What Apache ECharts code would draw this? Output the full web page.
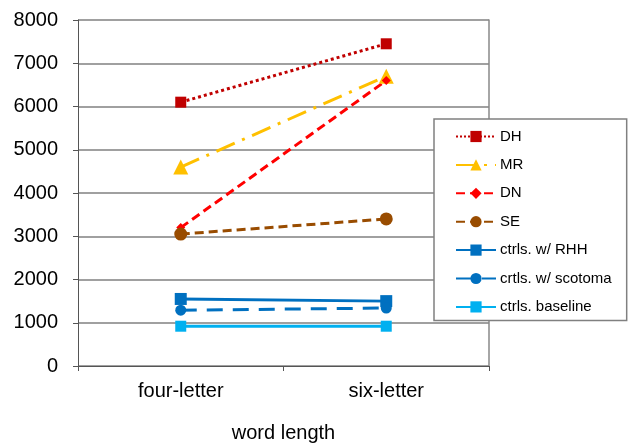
<!DOCTYPE html>
<html>
<head>
<meta charset="utf-8">
<script src="https://cdn.jsdelivr.net/npm/echarts@6/dist/echarts.min.js"></script>
<style>
html,body{margin:0;padding:0;background:#fff;}
#chart{width:633px;height:448px;}
</style>
</head>
<body>
<div id="chart"></div>
<script>
const categories = ['four-letter', 'six-letter'];
const seriesNames = ['DH', 'MR', 'DN', 'SE', 'ctrls. w/ RHH', 'crtls. w/ scotoma', 'ctrls. baseline'];
const dhValues = [6100, 7450];
const mrValues = [4600, 6700];
const dnValues = [3200, 6600];
const seValues = [3050, 3400];
const rhhValues = [1550, 1500];
const scotomaValues = [1290, 1340];
const baselineValues = [920, 920];
const yTicks = {min: 0, max: 8000, interval: 1000};
const xTitle = 'word length';

const FONT = 'Liberation Sans, Arial, sans-serif';

function mk(name, data, color, type, symbol, size) {
  return {
    name: name, type: 'line', data: data,
    symbol: symbol, symbolSize: size,
    itemStyle: {color: color},
    lineStyle: {color: color, width: 3, type: type},
    emphasis: {disabled: true},
    animation: false
  };
}

const chart = echarts.init(document.getElementById('chart'), null, {renderer: 'canvas'});
chart.setOption({
  animation: false,
  backgroundColor: '#ffffff',
  grid: {left: 78, right: 144, top: 20, bottom: 79},
  xAxis: {
    type: 'category', data: categories, boundaryGap: true,
    name: xTitle, nameLocation: 'middle', nameGap: 57,
    nameTextStyle: {fontFamily: FONT, fontSize: 20, color: '#000'},
    axisLine: {lineStyle: {color: '#555555', width: 1}},
    axisTick: {show: true, length: 5, lineStyle: {color: '#555555'}},
    axisLabel: {fontFamily: FONT, fontSize: 20, color: '#000', margin: 15},
    splitLine: {show: false}
  },
  yAxis: [{
    type: 'value', min: yTicks.min, max: yTicks.max, interval: yTicks.interval,
    axisLine: {show: true, lineStyle: {color: '#555555', width: 1}},
    axisTick: {show: true, length: 5, lineStyle: {color: '#555555'}},
    axisLabel: {fontFamily: FONT, fontSize: 20, color: '#000', margin: 20, formatter: function (v) { return String(v); }},
    splitLine: {show: true, lineStyle: {color: '#808080', width: 1.5}}
  }, {
    type: 'value', position: 'right', min: yTicks.min, max: yTicks.max, interval: yTicks.interval,
    axisLine: {show: true, lineStyle: {color: '#888888', width: 1.5}},
    axisTick: {show: false}, axisLabel: {show: false}, splitLine: {show: false}
  }],
  legend: {
    orient: 'vertical', left: 434, top: 119,
    padding: [10, 15, 6, 21],
    backgroundColor: '#ffffff', borderColor: '#808080', borderWidth: 1.5,
    itemWidth: 40, itemHeight: 14, itemGap: 13.4,
    textStyle: {fontFamily: FONT, fontSize: 15, color: '#000', padding: [0, 0, 0, -1]},
    data: seriesNames
  },
  series: [
    mk(seriesNames[0], dhValues, '#C00000', 'dotted', 'rect', 11),
    mk(seriesNames[1], mrValues, '#FFC000', [20, 8, 3, 8], 'triangle', 15),
    mk(seriesNames[2], dnValues, '#FF0000', [9, 5], 'diamond', 9),
    mk(seriesNames[3], seValues, '#994C00', [9, 5], 'circle', 13),
    mk(seriesNames[4], rhhValues, '#0070C0', 'solid', 'rect', 12),
    mk(seriesNames[5], scotomaValues, '#0070C0', [16, 10], 'circle', 11),
    mk(seriesNames[6], baselineValues, '#00B0F0', 'solid', 'rect', 11)
  ]
});
</script>
</body>
</html>
